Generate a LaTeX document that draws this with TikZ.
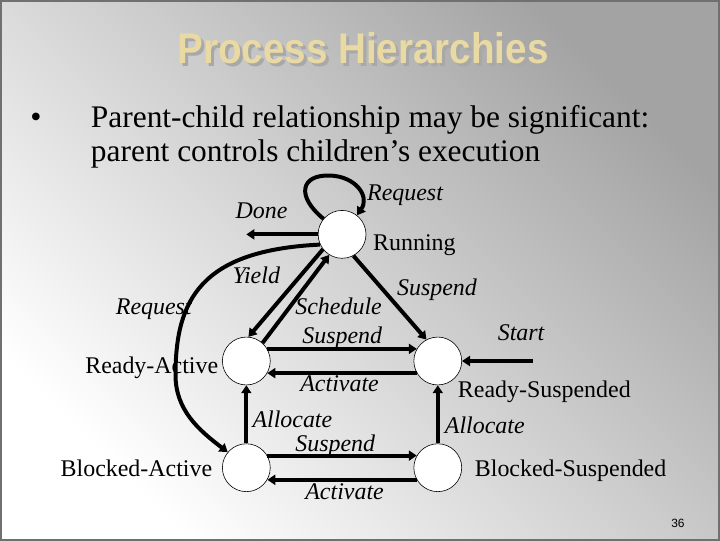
\documentclass[tikz,border=0pt]{standalone}
\usepackage{fontspec}
\setmainfont{Liberation Serif}
\setsansfont{Liberation Sans}
\usetikzlibrary{positioning,arrows.meta}
\definecolor{titlegold}{HTML}{E9D9A2}
\definecolor{titleshadow}{HTML}{A8A8A8}
\definecolor{framegray}{HTML}{707070}

\begin{document}
\begin{tikzpicture}[x=1pt,y=-1pt,
  state/.style={circle, draw, fill=white, line width=0.6pt, minimum size=48pt, inner sep=0pt},
  trans/.style={line width=4pt, -{Triangle[length=8pt,width=10pt]}},
  evlabel/.style={inner sep=0pt, anchor=base west, font=\fontsize{24}{28}\selectfont\itshape},
  statelabel/.style={inner sep=0pt, font=\fontsize{24}{28}\selectfont}]
  % slide background
  \shade[top color=white, bottom color=black!36, shading angle=135]
    (0,0) rectangle (720,540);
  \draw[framegray, line width=2pt] (0,0) rectangle (720,540);
  \useasboundingbox (0,0) rectangle (720,540);

  % title and bullet text
  \node (titleshadow) [titleshadow, inner sep=0pt, anchor=base, font=\fontsize{43}{48}\selectfont\sffamily\bfseries]
    at (366,66) {\scalebox{0.9}[1]{Process Hierarchies}};
  \node (title) [titlegold, inner sep=0pt, anchor=base, font=\fontsize{43}{48}\selectfont\sffamily\bfseries]
    at (363,63) {\scalebox{0.9}[1]{Process Hierarchies}};
  \node (bullet) [inner sep=0pt, anchor=base, font=\fontsize{32}{36}\selectfont] at (35,127) {\textbullet};
  \node (line1) [inner sep=0pt, anchor=base west, font=\fontsize{31.5}{36}\selectfont] at (90,127)
    {Parent-child relationship may be significant:};
  \node (line2) [inner sep=0pt, anchor=base west, font=\fontsize{31.5}{36}\selectfont] at (90,161)
    {parent controls children’s execution};

  % states
  \node (running) [state] at (342,234) {};
  \node (readyA) [state] at (246,361) {};
  \node (blockedA) [state] at (246,468) {};
  \node (readyS) [state] at (438,361) {};
  \node (blockedS) [state] at (438,468) {};
  \node (runningtxt) [statelabel, anchor=base west] at (373,250) {Running};
  \node (readyAtxt) [statelabel, anchor=base east] at (218,374) {Ready-Active};
  \node (blockedAtxt) [statelabel, anchor=base east] at (212,477) {Blocked-Active};
  \node (readyStxt) [statelabel, anchor=base west] at (458,398) {Ready-Suspended};
  \node (blockedStxt) [statelabel, anchor=base west] at (475,477) {Blocked-Suspended};

  \coordinate (doneend) at (246,234);
  \coordinate (startbeg) at (533,361);

  % transitions
  \draw[trans] (running.140) .. controls (296,196) and (300,174) .. (330,175)
    .. controls (356,176) and (370,196) .. (running.52);
  \draw[trans] (running.west) -- (doneend);
  \draw[trans] (running.218) -- (readyA.85);
  \draw[trans] (readyA.48) -- (running.238);
  \draw[trans] (running.205) .. controls (200,250) and (175,300) .. (175,375)
    .. controls (175,410) and (198,430) .. (blockedA.140);
  \draw[trans] (running.298) -- (readyS.118);
  \draw[trans] (readyA.30) -- (readyS.150);
  \draw[trans] (readyS.210) -- (readyA.330);
  \draw[trans] (blockedA.30) -- (blockedS.150);
  \draw[trans] (blockedS.210) -- (blockedA.330);
  \draw[trans] (blockedA.north) -- (readyA.south);
  \draw[trans] (blockedS.north) -- (readyS.south);
  \draw[trans] (startbeg) -- (readyS.east);

  % event labels
  \node (reqloop) [evlabel] at (367,200) {Request};
  \node (done) [evlabel] at (235,218) {Done};
  \node (yield) [evlabel] at (232,283) {Yield};
  \node (reqleft) [evlabel] at (115,314) {Request};
  \node (schedule) [evlabel] at (295,314) {Schedule};
  \node (suspA) [evlabel] at (302,343) {Suspend};
  \node (actA) [evlabel] at (300,392) {Activate};
  \node (allocA) [evlabel] at (252,428) {Allocate};
  \node (suspB) [evlabel] at (295,452) {Suspend};
  \node (actB) [evlabel] at (305,500) {Activate};
  \node (suspR) [evlabel] at (397,295) {Suspend};
  \node (start) [evlabel] at (498,340) {Start};
  \node (allocS) [evlabel] at (445,434) {Allocate};

  \node (pagenum) [inner sep=0pt, anchor=base west, font=\fontsize{12}{14}\selectfont\sffamily] at (672,528) {36};
\end{tikzpicture}
\end{document}
